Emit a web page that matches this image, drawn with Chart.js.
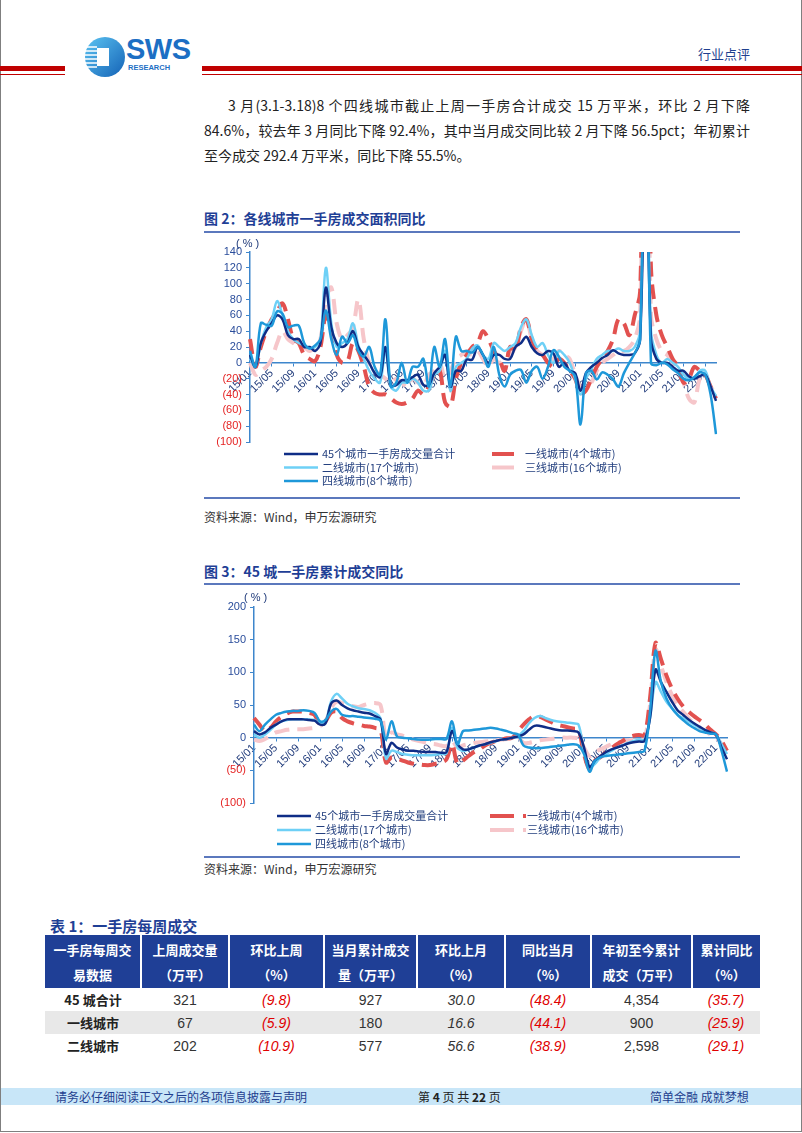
<!DOCTYPE html>
<html lang="zh-CN">
<head>
<meta charset="utf-8">
<script src="https://cdn.jsdelivr.net/npm/chart.js@4.4.1/dist/chart.umd.min.js"></script>
<style>
*{box-sizing:border-box;}
html,body{margin:0;padding:0;background:#fff;}
body{width:802px;height:1133px;position:relative;overflow:hidden;font-family:"Noto Sans CJK SC","Noto Sans",sans-serif;color:#222;}
.a{position:absolute;white-space:nowrap;}
.frame{position:absolute;left:0;top:-2px;width:802px;height:1134px;border:1px solid #7f7f7f;pointer-events:none;}
.red1{position:absolute;height:5px;background:#c00000;top:66px;}
.red2{position:absolute;height:1px;background:#c00000;top:74px;}
.para{position:absolute;font-size:14px;line-height:25px;height:25px;color:#222;white-space:nowrap;}
.just{text-align:justify;text-align-last:justify;}
.ftitle{position:absolute;left:204px;font-size:14px;font-weight:bold;color:#1f3f96;line-height:18px;}
.rule{position:absolute;left:204px;width:536px;height:2px;background:#5b78bd;}
.src{position:absolute;left:204px;font-size:12px;color:#333;line-height:16px;}
table{position:absolute;left:45px;top:935px;width:715px;border-collapse:collapse;table-layout:fixed;}
th{background:#1f3f96;color:#fff;font-weight:bold;height:53px;line-height:25px;border-left:2px solid #fff;text-align:center;padding:0;font-size:13px;}
th:first-child{border-left:none;}
td{height:23px;text-align:center;padding:0;font-size:14px;color:#333;font-family:"Liberation Sans Narrow","Liberation Sans",sans-serif;}
td.n{font-family:"Noto Sans CJK SC",sans-serif;font-weight:bold;color:#222;font-size:13px;}
td.neg{color:#e00000;font-style:italic;}
td.it{font-style:italic;}
tr.g td{background:#e8e8e8;}
.foot{position:absolute;left:1px;top:1088px;width:800px;height:17px;background:#c8e6f8;}
.ft{position:absolute;top:1088px;font-size:12px;line-height:17px;color:#1f3f8f;}
canvas{position:absolute;}
</style>
</head>
<body>
<div class="frame"></div>

<!-- header -->
<div class="red1" style="left:0;width:65px"></div>
<div class="red2" style="left:0;width:65px"></div>
<div class="red1" style="left:202px;width:600px"></div>
<div class="red2" style="left:202px;width:600px"></div>
<svg class="a" style="left:84px;top:36px" width="42" height="42" viewBox="0 0 42 42">
 <defs><linearGradient id="lg" x1="0" y1="0" x2="1" y2="1"><stop offset="0" stop-color="#5cc4f2"/><stop offset="1" stop-color="#1462b6"/></linearGradient></defs>
 <circle cx="21" cy="21" r="20" fill="url(#lg)"/>
 <g stroke="#fff" stroke-width="1.5">
  <line x1="1" y1="11" x2="13" y2="11"/><line x1="1" y1="15" x2="13" y2="15"/><line x1="1" y1="19" x2="13" y2="19"/>
  <line x1="1" y1="23" x2="13" y2="23"/><line x1="1" y1="27" x2="13" y2="27"/><line x1="2" y1="31" x2="13" y2="31"/>
 </g>
 <rect x="13" y="12" width="12" height="18" fill="#fff"/>
</svg>
<div class="a" style="left:126px;top:33px;font-family:'Liberation Sans',Arial,sans-serif;font-weight:bold;font-size:29px;color:#1c6fc4;letter-spacing:-0.5px">SWS</div>
<div class="a" style="left:128px;top:63px;font-family:'Liberation Sans',Arial,sans-serif;font-weight:bold;font-size:7.5px;color:#1c6fc4">RESEARCH</div>
<div class="a" style="left:698px;top:44px;font-size:13px;color:#1f3f8f">行业点评</div>

<!-- paragraph -->
<div class="para just" style="left:228px;top:93px;width:522px">3 月(3.1-3.18)8 个四线城市截止上周一手房合计成交 15 万平米，环比 2 月下降</div>
<div class="para just" style="left:204px;top:118px;width:546px">84.6%，较去年 3 月同比下降 92.4%，其中当月成交同比较 2 月下降 56.5pct；年初累计</div>
<div class="para" style="left:204px;top:143px">至今成交 292.4 万平米，同比下降 55.5%。</div>

<!-- figure 2 -->
<div class="ftitle" style="top:209px">图 2：各线城市一手房成交面积同比</div>
<div class="rule" style="top:231px"></div>
<canvas id="c1" width="536" height="258" style="left:204px;top:236px;width:536px;height:258px"></canvas>
<div class="rule" style="top:497px;height:1.5px"></div>
<div class="src" style="top:509px">资料来源：Wind，申万宏源研究</div>

<!-- figure 3 -->
<div class="ftitle" style="top:562px">图 3：45 城一手房累计成交同比</div>
<div class="rule" style="top:583px"></div>
<canvas id="c2" width="536" height="266" style="left:204px;top:590px;width:536px;height:266px"></canvas>
<div class="rule" style="top:856px;height:1.5px"></div>
<div class="src" style="top:861px">资料来源：Wind，申万宏源研究</div>

<!-- table -->
<div class="a" style="left:50px;top:915px;font-size:15px;font-weight:bold;color:#1f3f96">表 1：一手房每周成交</div>
<table>
<colgroup><col style="width:96px"><col style="width:88px"><col style="width:95px"><col style="width:93px"><col style="width:88px"><col style="width:86px"><col style="width:101px"><col style="width:68px"></colgroup>
<tr><th>一手房每周交<br>易数据</th><th>上周成交量<br>（万平）</th><th>环比上周<br>（%）</th><th>当月累计成交<br>量（万平）</th><th>环比上月<br>（%）</th><th>同比当月<br>（%）</th><th>年初至今累计<br>成交（万平）</th><th>累计同比<br>（%）</th></tr>
<tr><td class="n">45 城合计</td><td>321</td><td class="neg">(9.8)</td><td>927</td><td class="it">30.0</td><td class="neg">(48.4)</td><td>4,354</td><td class="neg">(35.7)</td></tr>
<tr class="g"><td class="n">一线城市</td><td>67</td><td class="neg">(5.9)</td><td>180</td><td class="it">16.6</td><td class="neg">(44.1)</td><td>900</td><td class="neg">(25.9)</td></tr>
<tr><td class="n">二线城市</td><td>202</td><td class="neg">(10.9)</td><td>577</td><td class="it">56.6</td><td class="neg">(38.9)</td><td>2,598</td><td class="neg">(29.1)</td></tr>
</table>

<!-- footer -->
<div class="foot"></div>
<div class="ft" style="left:55px">请务必仔细阅读正文之后的各项信息披露与声明</div>
<div class="ft" style="left:418px;color:#222">第 <b>4</b> 页 共 <b>22</b> 页</div>
<div class="ft" style="left:650px">简单金融 成就梦想</div>

<script>
// ---------- categories (monthly, 2015/01 - 2022/03) ----------
const MONTHS = [];
for (let y = 15; y <= 22; y++) {
  for (let m = 1; m <= 12; m++) {
    if (y === 22 && m > 3) break;
    MONTHS.push(y + '/' + (m < 10 ? '0' + m : m));
  }
}
const SERIES_NAMES = ['45个城市一手房成交量合计', '一线城市(4个城市)', '二线城市(17个城市)', '三线城市(16个城市)', '四线城市(8个城市)'];

// ---------- Figure 2: monthly YoY (%) ----------
const fig2_total = [10,-5,25,40,50,60,55,35,30,30, 20,20,15,25,95,45,25,20,25,40, 20,10,0,-13,-18,20,-28,-28,-22,-22, -18,-15,-28,-28,-13,-5,10,-30,-10,-10, 4,4,20,10,0,10,10,5,5,20, 25,33,20,12,10,15,12,-5,0,-10, -13,-35,-13,-5,0,6,10,16,12,10, 10,12,30,300,30,5,0,0,-5,-10, -10,-17,-20,-17,-15,-30,-48];
const fig2_tier1 = [30,-5,20,40,55,65,75,55,30,25, 10,5,2,20,60,40,10,0,2,25, 15,-5,-30,-38,-40,-40,-45,-50,-52,-50, -45,-35,-40,-30,-15,-10,-50,-55,-20,0, 10,20,25,40,30,15,5,-10,20,15, 45,55,30,15,10,0,-5,5,0,-10, -20,-38,-35,-20,-5,5,15,30,55,50, 35,60,90,450,120,60,35,20,5,-5, -25,-20,-5,-10,-15,-30,-45];
const fig2_tier2 = [5,-5,25,45,55,78,60,40,30,25, 22,18,20,30,120,50,20,25,30,50, 22,5,-10,-20,-25,15,-30,-35,-25,-25, -20,-25,-35,-35,-15,-10,15,-35,-5,0, 5,18,22,10,5,25,20,15,20,25, 45,55,35,20,25,10,0,15,10,0, -20,-40,-20,-8,5,10,15,15,18,15, 15,20,40,350,40,10,0,5,0,-5, -15,-20,-20,-10,-10,-30,-42];
const fig2_tier3 = [0,-15,-10,-5,5,25,40,30,25,20, 20,15,20,30,80,95,50,30,35,45, 80,30,0,-10,-15,-20,-25,-20,-25,-30, -20,-25,-30,-15,-10,0,-20,-10,5,10, 15,10,15,5,-5,5,0,5,10,20, 40,55,30,15,10,5,5,15,10,5, -15,-30,-30,-25,-10,0,5,10,15,15, 20,30,60,500,60,30,15,10,0,-10, -25,-45,-50,-20,-15,-30,-40];
const fig2_tier4 = [15,-5,50,48,47,65,62,45,47,47, 25,18,22,30,66,30,10,33,25,35, 15,8,20,-5,-15,55,-30,-25,0,-25, -5,-5,5,-30,20,-5,30,-30,33,15, 15,13,20,10,-5,20,-15,-30,-15,-10, -9,-25,-10,-5,-20,-5,16,8,-5,-10, -17,-78,-13,-10,-21,-12,-15,-21,-30,-13, 0,12,30,400,0,-3,0,-2,-8,-13, -20,-22,-18,-12,-15,-40,-90];
const fig2_ticks = { min: -100, max: 140, step: 20 };

// ---------- Figure 3: cumulative YoY (%) ----------
const fig3_total = [10,5,8,15,20,25,28,28,28,28, 27,26,20,22,52,57,50,45,42,40, 38,37,33,28,-25,-8,-15,-18,-20,-20, -21,-22,-22,-22,-23,-22,10,-10,-18,-18, -15,-12,-10,-7,-5,-3,-2,0,2,5, 12,18,18,16,14,12,11,11,10,8, -15,-45,-35,-28,-22,-18,-15,-12,-9,-7, -6,-5,30,104,85,70,55,42,35,28, 22,17,12,8,5,-15,-33];
const fig3_tier1 = [30,20,10,15,25,32,37,40,40,40, 38,35,20,25,38,40,30,25,22,20, 18,17,15,12,-38,-30,-32,-35,-38,-40, -41,-42,-42,-40,-38,-33,-10,-40,-35,-28, -22,-18,-12,-8,-5,-3,-1,0,10,20, 28,33,32,28,24,20,18,16,14,12, -25,-48,-35,-30,-22,-16,-10,-5,0,3, 4,4,60,145,120,95,75,60,48,40, 33,27,20,12,5,-5,-20];
const fig3_tier2 = [5,0,5,12,20,25,27,28,28,28, 28,27,22,25,55,67,60,52,48,45, 44,42,38,30,-32,-20,-22,-25,-26,-27, -27,-27,-27,-26,-25,-24,15,-15,-20,-18, -15,-12,-10,-8,-5,-3,-2,0,3,10, 22,30,33,30,27,25,24,23,22,20, -20,-45,-40,-30,-25,-20,-15,-12,-8,-5, -3,-3,30,85,70,55,45,35,30,25, 20,15,10,8,5,-10,-25];
const fig3_tier3 = [-3,-5,-2,3,8,10,12,13,13,13, 14,15,18,25,45,55,53,50,48,47, 50,52,53,50,0,8,5,3,0,-3, -5,-7,-9,-10,-12,-13,-5,-15,-12,-10, -8,-7,-6,-5,-4,-3,-2,-1,0,-8, -8,-6,-4,-3,-2,-1,0,0,0,-2, -15,-28,-22,-18,-14,-10,-8,-6,-4,-3, -2,-2,50,135,110,85,65,50,40,30, 22,15,10,5,0,-10,-25];
const fig3_tier4 = [20,10,20,28,35,38,40,41,41,42, 41,38,25,27,40,44,35,33,33,32, 31,30,29,26,-3,25,2,0,-1,-2, -3,-3,-3,-2,-2,-2,25,-10,10,11, 12,13,14,15,14,12,10,7,5,-12, -15,-16,-16,-15,-14,-13,-12,-11,-10,-12, -25,-52,-35,-30,-28,-27,-26,-25,-24,-23, -22,-20,40,133,85,60,45,35,27,20, 15,10,8,6,5,-20,-52];
const fig3_ticks = { min: -100, max: 200, step: 50 };

// ---------- styling ----------
const COL_NAVY = '#0f2d86', COL_RED = '#e2514f', COL_CYAN = '#6ed0f6', COL_PINK = '#f6c6ca', COL_BLUE = '#1e98d9';
const AXIS_COL = '#3d86cc', POS_COL = '#2a4d9b', NEG_COL = '#e52323', XLAB_COL = '#1f3a7a', LEG_COL = '#24407f';

const decor = {
  id: 'decor',
  afterDraw(chart, args, o) {
    const ctx = chart.ctx;
    ctx.save();
    ctx.textBaseline = 'middle';
    ctx.textAlign = 'left';
    ctx.font = '11px "Liberation Sans", Arial, sans-serif';
    ctx.fillStyle = '#1f3a7a';
    ctx.fillText('( % )', o.unitX, o.unitY);
    chart.data.datasets.forEach((d, i) => {
      const col = i % 2, row = Math.floor(i / 2);
      const x = o.legX[col], y = o.legY + row * o.legDy;
      ctx.beginPath();
      ctx.strokeStyle = d.borderColor;
      ctx.lineWidth = d.borderDash ? 4 : 2.5;
      ctx.setLineDash(d.borderDash ? o.legDash : []);
      ctx.moveTo(x, y);
      ctx.lineTo(x + o.legLen[col], y);
      ctx.stroke();
      ctx.setLineDash([]);
      ctx.font = '11px "Noto Sans CJK SC", sans-serif';
      ctx.fillStyle = LEG_COL;
      ctx.fillText(d.label, o.legTextX[col], y);
    });
    ctx.restore();
  }
};

function makeChart(id, series, tk, layout, dec) {
  const styles = [
    { c: COL_NAVY, w: 2.5, dash: null, order: 2 },
    { c: COL_RED, w: 4, dash: [15, 8], order: 4 },
    { c: COL_CYAN, w: 2.5, dash: null, order: 3 },
    { c: COL_PINK, w: 4, dash: [15, 8], order: 5 },
    { c: COL_BLUE, w: 2.5, dash: null, order: 1 }
  ];
  const datasets = series.map((s, i) => ({
    label: SERIES_NAMES[i],
    data: s,
    borderColor: styles[i].c,
    backgroundColor: styles[i].c,
    borderWidth: styles[i].w,
    borderDash: styles[i].dash || undefined,
    order: styles[i].order,
    pointRadius: 0,
    tension: 0.35,
    fill: false
  }));
  return new Chart(document.getElementById(id), {
    type: 'line',
    data: { labels: MONTHS, datasets },
    plugins: [decor],
    options: {
      responsive: false,
      animation: false,
      devicePixelRatio: 1,
      layout: { autoPadding: false, padding: layout.padding },
      plugins: { legend: { display: false }, tooltip: { enabled: false }, decor: dec },
      scales: {
        x: {
          type: 'category',
          position: { y: 0 },
          offset: false,
          afterFit(s) { s.height = 0; },
          border: { display: true, color: AXIS_COL, width: 1.5 },
          grid: { display: true, drawOnChartArea: false, drawTicks: true, tickLength: 3, color: AXIS_COL },
          ticks: {
            autoSkip: false, minRotation: 45, maxRotation: 45, padding: 1,
            color: XLAB_COL,
            font: { family: '"Liberation Sans", Arial, sans-serif', size: 11 },
            callback: function (v, i) { return i % 4 === 0 ? this.getLabelForValue(v) : null; }
          }
        },
        y: {
          min: tk.min, max: tk.max,
          afterFit(s) { s.width = layout.yWidth; },
          border: { display: true, color: AXIS_COL, width: 1.5 },
          grid: { display: true, drawOnChartArea: false, drawTicks: true, tickLength: 4, color: AXIS_COL },
          ticks: {
            stepSize: tk.step, padding: 4, autoSkip: false,
            color: c => (c.tick && c.tick.value < 0 ? NEG_COL : POS_COL),
            font: { family: '"Liberation Sans", Arial, sans-serif', size: 11 },
            callback: v => (v < 0 ? '(' + (-v) + ')' : String(v))
          }
        }
      }
    }
  });
}

makeChart('c1', [fig2_total, fig2_tier1, fig2_tier2, fig2_tier3, fig2_tier4], fig2_ticks,
  { padding: { left: 0, right: 24, top: 16, bottom: 52 }, yWidth: 46 },
  { unitX: 32, unitY: 8, legX: [80, 288], legLen: [34, 34], legTextX: [118, 321], legY: 218, legDy: 13.5, legDash: [22, 14] });

makeChart('c2', [fig3_total, fig3_tier1, fig3_tier2, fig3_tier3, fig3_tier4], fig3_ticks,
  { padding: { left: 0, right: 13, top: 17, bottom: 53 }, yWidth: 50 },
  { unitX: 40, unitY: 8, legX: [73, 286], legLen: [34, 36], legTextX: [111, 323], legY: 226, legDy: 14, legDash: [24, 9] });
</script>
</body>
</html>
